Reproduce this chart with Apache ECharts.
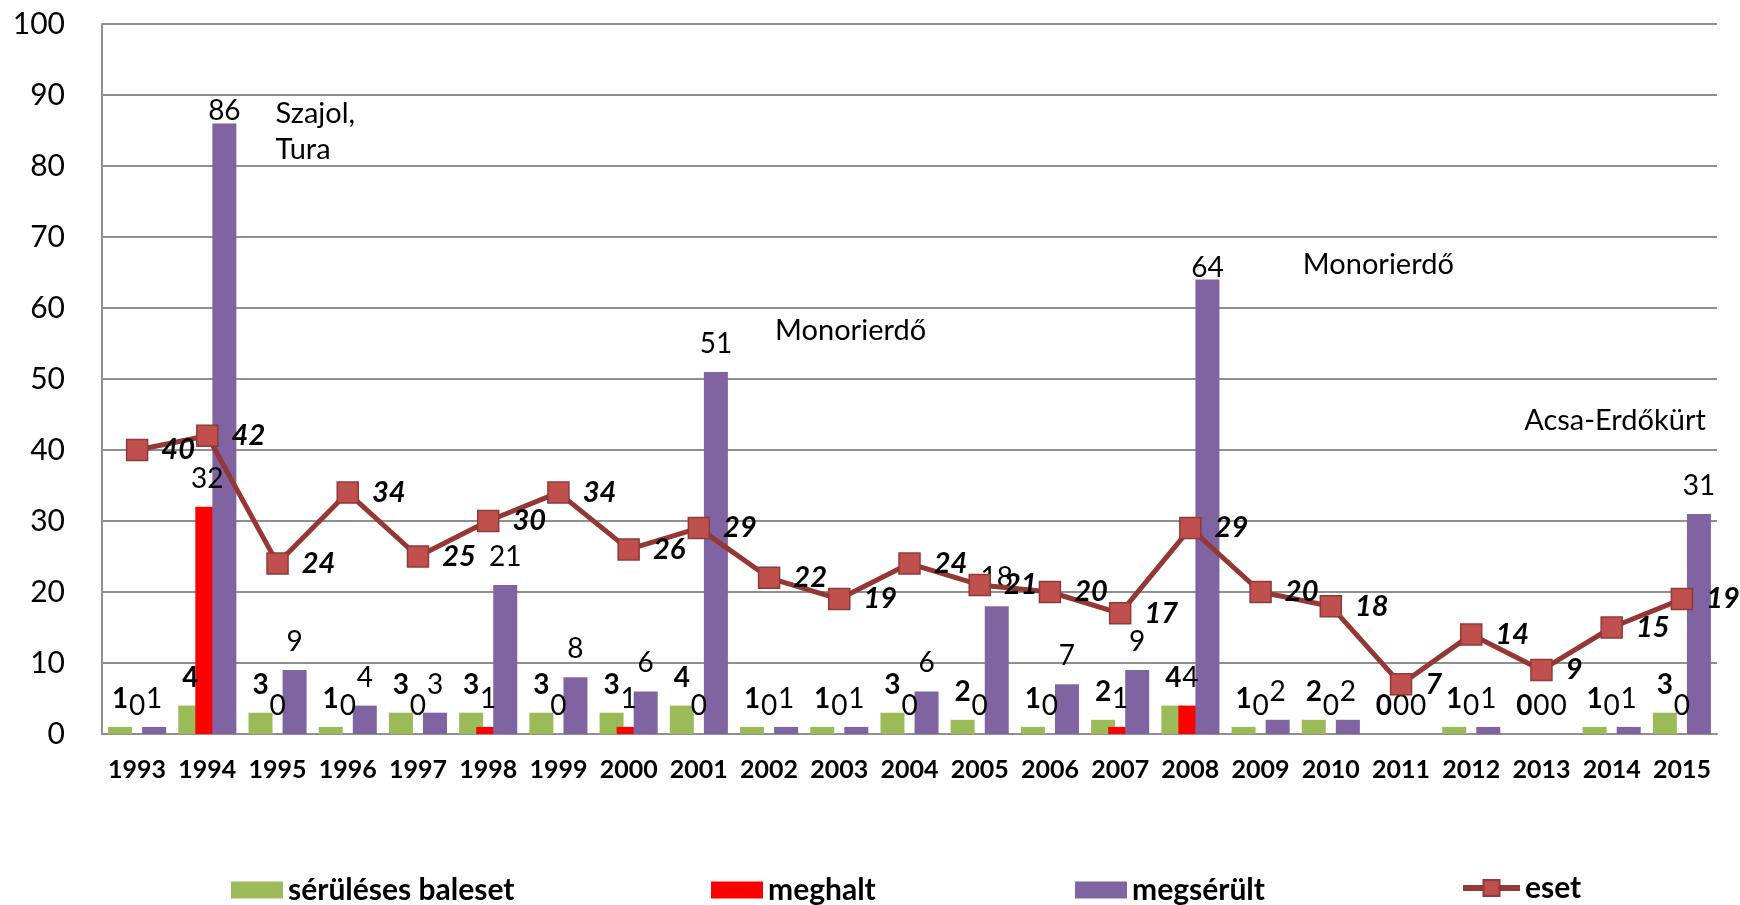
<!DOCTYPE html>
<html>
<head>
<meta charset="utf-8">
<script src="https://cdn.jsdelivr.net/npm/echarts@6/dist/echarts.min.js"></script>
<style>
  html, body { margin: 0; padding: 0; background: #fff; }
  #chart { width: 1740px; height: 905px; }
</style>
</head>
<body>
<div id="chart"></div>
<script>
// kategóriák (évek)
const years = ["1993", "1994", "1995", "1996", "1997", "1998", "1999", "2000", "2001", "2002", "2003", "2004",
  "2005", "2006", "2007", "2008", "2009", "2010", "2011", "2012", "2013", "2014", "2015"];

// sorozatok
const baleset = [1, 4, 3, 1, 3, 3, 3, 3, 4, 1, 1, 3, 2, 1, 2, 4, 1, 2, 0, 1, 0, 1, 3];
const meghalt = [0, 32, 0, 0, 0, 1, 0, 1, 0, 0, 0, 0, 0, 0, 1, 4, 0, 0, 0, 0, 0, 0, 0];
const megserult = [1, 86, 9, 4, 3, 21, 8, 6, 51, 1, 1, 6, 18, 7, 9, 64, 2, 2, 0, 1, 0, 1, 31];
const eset = [40, 42, 24, 34, 25, 30, 34, 26, 29, 22, 19, 24, 21, 20, 17, 29, 20, 18, 7, 14, 9, 15, 19];

// y tengely
const yMin = 0;
const yMax = 100;
const yStep = 10;

// helyszín feliratok
const notes = [
  { year: "1995", value: 84.9, text: "Szajol,\nTura" },
  { year: "2002", value: 56.8, text: "Monorierdő" },
  { year: "2010", value: 66.1, text: "Monorierdő" },
  { year: "2015", value: 44.2, text: "Acsa-Erdőkürt" },
];

const FONT = 'Lato, "Open Sans", sans-serif';
const GRID_COLOR = "#8f8f8f";

let myChart = echarts.init(document.getElementById("chart"));

// oszlop felirat
function barLabel(bold) {
  return {
    show: true,
    position: "top",
    distance: 14,
    color: "#000",
    fontFamily: FONT,
    fontSize: 28,
    lineHeight: 28,
    fontWeight: bold ? "bold" : "normal",
  };
}

// a két legmagasabb oszlop felirata lejjebb van húzva
function pulledDown(values) {
  return values.map((v, i) => {
    if (years[i] === "1994" || years[i] === "2008") {
      return { value: v, label: { distance: -2 } };
    }
    return v;
  });
}

function legendItem(name, left, icon) {
  let item = {
    data: [name],
    left: left,
    top: 874,
    padding: 0,
    itemWidth: 52,
    itemHeight: 17,
    selectedMode: false,
    textStyle: {
      color: "#000",
      fontFamily: FONT,
      fontSize: 30,
      fontWeight: "bold",
      lineHeight: 32,
    },
  };
  if (icon) {
    item.icon = icon;
  } else {
    // vonal + négyzet jelölő
    item.itemWidth = 57;
    item.itemHeight = 20;
    item.top = 872;
    item.lineStyle = { width: 6 };
  }
  return item;
}

let option = {
  animation: false,
  backgroundColor: "#fff",
  grid: {
    left: 102,
    right: 23,
    top: 24,
    bottom: 171,
  },
  legend: [
    legendItem("sérüléses baleset", 231, "rect"),
    legendItem("meghalt", 711, "rect"),
    legendItem("megsérült", 1075, "rect"),
    legendItem("eset", 1460),
  ],
  xAxis: {
    type: "category",
    data: years,
    axisTick: { show: false },
    axisLine: { lineStyle: { color: GRID_COLOR, width: 2 } },
    axisLabel: {
      color: "#000",
      fontFamily: FONT,
      fontSize: 25,
      fontWeight: "bold",
      margin: 23,
      interval: 0,
    },
  },
  yAxis: {
    type: "value",
    min: yMin,
    max: yMax,
    interval: yStep,
    axisLine: { show: true, lineStyle: { color: GRID_COLOR, width: 2 } },
    axisTick: { show: false },
    axisLabel: {
      color: "#000",
      fontFamily: FONT,
      fontSize: 30,
      margin: 37,
    },
    splitLine: { lineStyle: { color: GRID_COLOR, width: 2 } },
  },
  series: [
    {
      name: "sérüléses baleset",
      type: "bar",
      data: baleset,
      barWidth: 24,
      barGap: "-29%",
      itemStyle: { color: "#9BBB59" },
      label: barLabel(true),
    },
    {
      name: "meghalt",
      type: "bar",
      data: meghalt,
      barWidth: 24,
      barGap: "-29%",
      itemStyle: { color: "#FF0000" },
      label: barLabel(false),
    },
    {
      name: "megsérült",
      type: "bar",
      data: pulledDown(megserult),
      barWidth: 24,
      barGap: "-29%",
      itemStyle: { color: "#8064A2" },
      label: barLabel(false),
    },
    {
      name: "eset",
      type: "line",
      data: eset,
      z: 5,
      symbol: "rect",
      symbolSize: 21,
      lineStyle: { color: "#953735", width: 5 },
      itemStyle: { color: "#C0504D", borderColor: "#8E3A38", borderWidth: 1.5 },
      label: {
        show: true,
        position: "right",
        distance: 13,
        color: "#000",
        fontFamily: FONT,
        fontSize: 29,
        fontWeight: "bold",
        fontStyle: "italic",
      },
      markPoint: {
        symbol: "rect",
        symbolSize: 1,
        itemStyle: { color: "rgba(0,0,0,0)" },
        label: {
          show: true,
          position: "inside",
          color: "#000",
          fontFamily: FONT,
          fontSize: 29,
          lineHeight: 36,
          fontWeight: "normal",
          fontStyle: "normal",
        },
        data: notes.map((n) => {
          let right = n.year === "2015";
          let dx = { "1995": -2, "2002": 6, "2010": -28, "2015": 24 }[n.year];
          return {
            coord: [n.year, n.value],
            label: {
              formatter: n.text,
              align: right ? "right" : "left",
              offset: [dx, 0],
            },
          };
        }),
      },
    },
  ],
};

myChart.setOption(option, true);

window.addEventListener("resize", () => {
  myChart.resize();
});
</script>
</body>
</html>
